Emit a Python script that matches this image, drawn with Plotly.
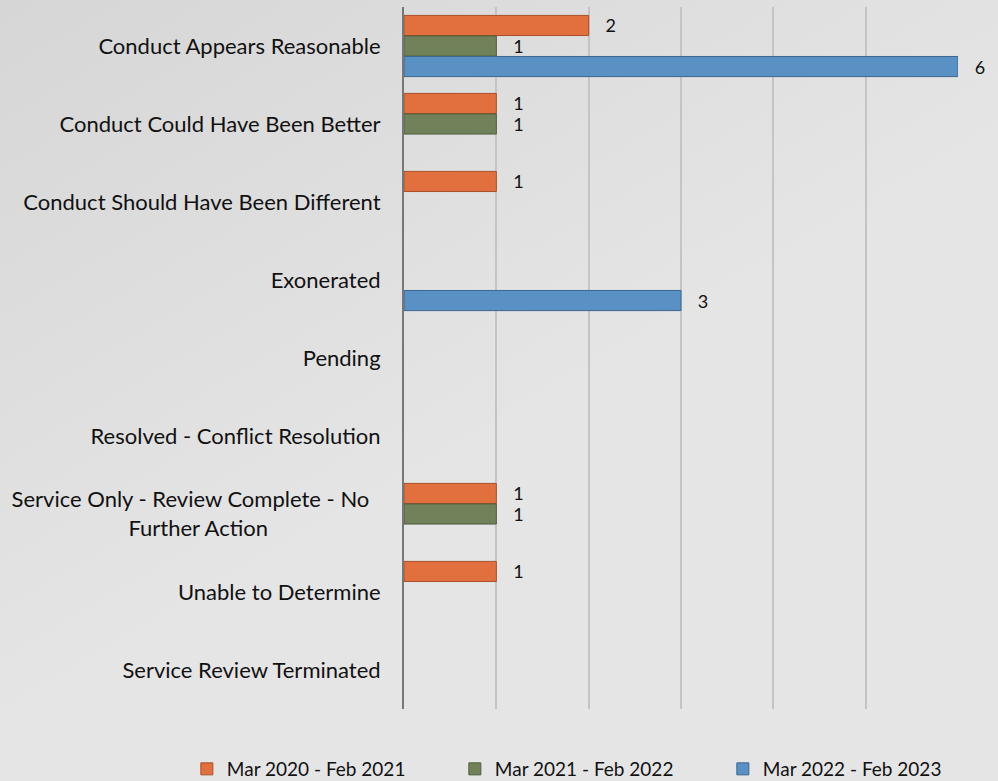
import base64
import plotly.graph_objects as go

categories = [
    "Conduct Appears Reasonable",
    "Conduct Could Have Been Better",
    "Conduct Should Have Been Different",
    "Exonerated",
    "Pending",
    "Resolved - Conflict Resolution",
    "Service Only - Review Complete - No \u00a0<br>Further Action" + "\u00a0" * 20,
    "Unable to Determine",
    "Service Review Terminated",
]
series_names = ["Mar 2020 - Feb 2021", "Mar 2021 - Feb 2022", "Mar 2022 - Feb 2023"]
vals_2020 = [2, 1, 1, 0, 0, 0, 1, 1, 0]
vals_2021 = [1, 1, 0, 0, 0, 0, 1, 0, 0]
vals_2022 = [6, 0, 0, 3, 0, 0, 0, 0, 0]
x_ticks = [0, 1, 2, 3, 4, 5, 6]

colors = ["#E2703F", "#71825A", "#5A91C4"]
edges = ["#A94F2A", "#4F5E3C", "#3B6690"]

# soft gray background, a bit darker in the top-left corner
svg = ('<svg xmlns="http://www.w3.org/2000/svg" width="998" height="781">'
       '<defs><linearGradient id="g" x1="0" y1="0" x2="0.45" y2="0.6">'
       '<stop offset="0" stop-color="#d6d6d6"/><stop offset="1" stop-color="#e5e5e5"/>'
       '</linearGradient></defs><rect width="998" height="781" fill="url(#g)"/></svg>')
bg = "data:image/svg+xml;base64," + base64.b64encode(svg.encode()).decode()

fig = go.Figure()
for name, vals, c, e in zip(series_names, [vals_2020, vals_2021, vals_2022], colors, edges):
    fig.add_trace(go.Bar(
        y=categories, x=[v if v else None for v in vals], name=name, orientation="h",
        marker=dict(color=c, line=dict(color=e, width=1)),
        text=["\u00a0\u00a0\u00a0" + str(v) if v else "" for v in vals],
        textposition="outside", cliponaxis=False, constraintext="none",
        textfont=dict(family="Lato, sans-serif", size=18, color="#111111"),
    ))

fig.update_layout(
    width=998, height=781,
    barmode="group", bargap=0.21, bargroupgap=0.02,
    paper_bgcolor="#e4e4e4", plot_bgcolor="rgba(0,0,0,0)",
    margin=dict(l=404, r=40, t=7, b=72, autoexpand=False),
    font=dict(family="Lato, sans-serif", size=22, color="#111111"),
    images=[dict(source=bg, xref="paper", yref="paper", x=-404 / 554, y=1 + 7 / 702,
                 sizex=998 / 554, sizey=781 / 702, sizing="stretch", layer="below",
                 xanchor="left", yanchor="top")],
    xaxis=dict(range=[0, 6], tickvals=x_ticks, showticklabels=False, automargin=False,
               showgrid=True, gridcolor="#c4c4c4", gridwidth=2, zeroline=False),
    yaxis=dict(autorange="reversed", showline=True, linecolor="#777777", linewidth=2,
               ticks="", ticklabelstandoff=17, showgrid=False, automargin=False),
    legend=dict(orientation="h", x=-0.392, xanchor="left", y=-0.0855, yanchor="middle",
                entrywidth=223, entrywidthmode="pixels", traceorder="normal",
                font=dict(size=19), bgcolor="rgba(0,0,0,0)"),
    showlegend=True,
)

fig.write_html("out.html", config={"displayModeBar": False},
               post_script="document.body.style.margin='0';")
